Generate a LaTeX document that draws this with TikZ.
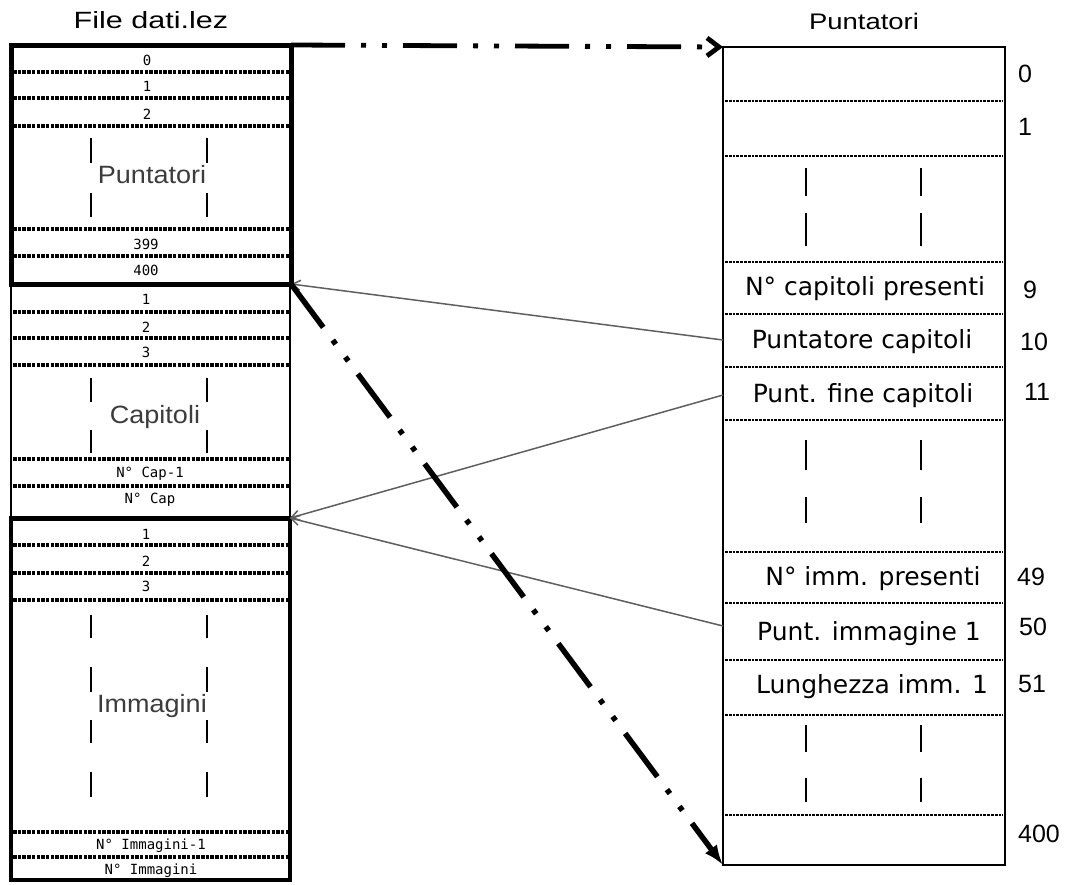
\documentclass[tikz,border=0pt]{standalone}
\usepackage{fontspec}
\usetikzlibrary{arrows.meta}
\newfontfamily\titleA[FakeStretch=1.3]{Liberation Sans}
\newfontfamily\titleB[FakeStretch=1.22]{Liberation Sans}
\newfontfamily\secfont[FakeStretch=1.08]{Liberation Sans}
\newfontfamily\numfont{Liberation Sans}
\newfontfamily\rowfont{DejaVu Sans}
\newfontfamily\cellfont{DejaVu Sans Mono}
\definecolor{secgray}{RGB}{60,60,60}
\definecolor{ptrgray}{RGB}{95,95,95}
\begin{document}
\begin{tikzpicture}[x=1pt,y=-1pt,
  every node/.style={inner sep=0pt, outer sep=0pt},
  cell/.style={anchor=base, font=\cellfont\fontsize{14}{16}\selectfont},
  rowtxt/.style={anchor=base, font=\rowfont\fontsize{25}{30}\selectfont},
  idx/.style={anchor=base, font=\numfont\fontsize{25}{30}\selectfont},
  sect/.style={anchor=base, text=secgray, font=\secfont\fontsize{25}{30}\selectfont},
  sepL/.style={line width=3.4pt, dash pattern=on 3.5pt off 1.2pt},
  sepR/.style={line width=2.6pt, dash pattern=on 2.8pt off 1pt},
  vbar/.style={line width=2.2pt},
  bigarrow/.style={line width=4.8pt, dash pattern=on 54pt off 16pt on 5pt off 16pt on 5pt off 16pt},
  ptr/.style={draw=ptrgray, line width=1.5pt, -{Straight Barb[length=8pt,width=10pt]}},
]
\useasboundingbox (0,0) rectangle (1070,884);
\fill[white] (0,0) rectangle (1070,884);

% titles
\node[anchor=base, font=\titleA\fontsize{23.5}{28}\selectfont] (t1) at (151,28) {File dati.lez};
\node[anchor=base, font=\titleB\fontsize{22.5}{26}\selectfont] (t2) at (864,29) {Puntatori};

% ---------------- left column ----------------
\node[draw, line width=2.2pt, minimum width=279pt, minimum height=234pt, anchor=north west] (cap) at (11,284) {};
\node[draw, line width=3.5pt, minimum width=279pt, minimum height=362pt, anchor=north west] (imm) at (11,518) {};
\draw[line width=5pt] (imm.north west) -- (imm.north east);
\node[draw, line width=5pt, minimum width=280pt, minimum height=239pt, anchor=north west] (lptr) at (11,45) {};

% separators left
\foreach \y in {72,98,126,229,256,312,338,365,459,486,545,573,600,832,857}
  \draw[sepL] (13,\y) -- (289,\y);

% vertical bars left
\foreach \a/\b in {138/163,193/217,378/402,430/453,615/638,667/692,720/743,772/797}{
  \draw[vbar] (91,\a) -- (91,\b);
  \draw[vbar] (207,\a) -- (207,\b);
}

% cell labels left
\node[cell] (p0) at (147,65) {0};
\node[cell] (p1) at (147,91) {1};
\node[cell] (p2) at (147,119) {2};
\node[cell] (p399) at (146,249) {399};
\node[cell] (p400) at (146,275) {400};
\node[cell] (c1) at (146,304) {1};
\node[cell] (c2) at (146,332) {2};
\node[cell] (c3) at (146,357) {3};
\node[cell] (cn1) at (150,477) {N° Cap-1};
\node[cell] (cn) at (150,503) {N° Cap};
\node[cell] (i1) at (146,539) {1};
\node[cell] (i2) at (146,566) {2};
\node[cell] (i3) at (146,591) {3};
\node[cell] (in1) at (151,849) {N° Immagini-1};
\node[cell] (in) at (151,874) {N° Immagini};

% section labels
\node[sect] (sp) at (152,183) {Puntatori};
\node[sect] (sc) at (155,423) {Capitoli};
\node[sect] (si) at (152,712) {Immagini};

% ---------------- right column ----------------
\node[draw, line width=2.5pt, minimum width=282pt, minimum height=818pt, anchor=north west] (rbox) at (723,47) {};
\foreach \y in {101,156,262,314,367,420,552,603,660,715,815}
  \draw[sepR] (725,\y) -- (1003,\y);
\foreach \a/\b in {168/196,213/246,440/470,497/523,725/752,778/802}{
  \draw[vbar] (806,\a) -- (806,\b);
  \draw[vbar] (921,\a) -- (921,\b);
}
\node[rowtxt] (r9) at (865,295) {N° capitoli presenti};
\node[rowtxt] (r10) at (862,348) {Puntatore capitoli};
\node[rowtxt] (r11) at (863,402) {Punt. fine capitoli};
\node[rowtxt] (r49) at (873,585) {N° imm. presenti};
\node[rowtxt] (r50) at (869,640) {Punt. immagine 1};
\node[rowtxt] (r51) at (872,693) {Lunghezza imm. 1};

\node[idx] (n0) at (1025,82) {0};
\node[idx] (n1) at (1025,135) {1};
\node[idx] (n9) at (1030,298) {9};
\node[idx] (n10) at (1034,350) {10};
\node[idx] (n11) at (1037,400) {11};
\node[idx] (n49) at (1031,585) {49};
\node[idx] (n50) at (1033,635) {50};
\node[idx] (n51) at (1032,692) {51};
\node[idx] (n400) at (1039,842) {400};

% ---------------- connectors ----------------
\coordinate (s10) at (723,340);
\coordinate (s11) at (723,395);
\coordinate (s50) at (723,626);
\draw[ptr] (s10) -- (lptr.south east);
\draw[ptr] (s11) -- (imm.north east);
\draw[ptr] (s50) -- (imm.north east);

\draw[bigarrow, -{Straight Barb[length=12pt,width=18pt]}] (lptr.north east) -- (rbox.north west);
\draw[bigarrow, line width=5.5pt, -{Latex[length=20pt,width=15pt]}] (lptr.south east) -- (rbox.south west);
\end{tikzpicture}
\end{document}
